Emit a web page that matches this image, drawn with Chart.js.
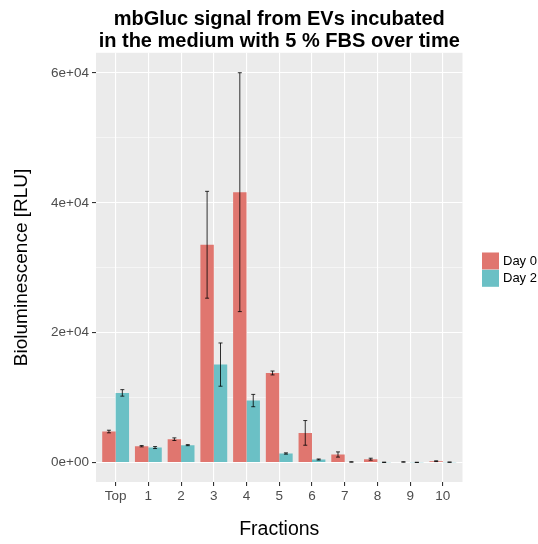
<!DOCTYPE html>
<html>
<head>
<meta charset="utf-8">
<script src="https://cdn.jsdelivr.net/npm/chart.js@4"></script>
<style>
  html, body { margin: 0; padding: 0; background: #fff; }
  #wrap { width: 538px; height: 544px; }
</style>
</head>
<body>
<div id="wrap"><canvas id="chart" width="538" height="544"></canvas></div>
<script>
const fractions = ['Top', '1', '2', '3', '4', '5', '6', '7', '8', '9', '10'];
const day0 = [4770, 2510, 3590, 33540, 41640, 13790, 4560, 1230, 510, 80, 200];
const day2 = [10720, 2300, 2670, 15080, 9540, 1385, 460, 80, 30, 20, 50];
const err0 = [200, 100, 200, 8230, 18400, 300, 1900, 400, 150, 30, 60];
const err2 = [500, 150, 80, 3330, 950, 100, 80, 30, 20, 10, 20];
const yTicks = [0, 10000, 20000, 30000, 40000, 50000, 60000];
const yLabels = {0: '0e+00', 20000: '2e+04', 40000: '4e+04', 60000: '6e+04'};

const FONT = "'Liberation Sans', Arial, Helvetica, sans-serif";
const RED = '#E0766F';
const TEAL = '#6BC0C5';

const panelBg = {
  id: 'panelBg',
  beforeDraw(chart) {
    const a = chart.chartArea, c = chart.ctx;
    c.save();
    c.fillStyle = '#EBEBEB';
    c.fillRect(a.left, a.top, a.right - a.left, a.bottom - a.top);
    c.restore();
  }
};

const errorBars = {
  id: 'errorBars',
  afterDatasetsDraw(chart) {
    const c = chart.ctx, y = chart.scales.y;
    const errs = [err0, err2];
    c.save();
    c.strokeStyle = 'rgba(0,0,0,0.8)';
    c.lineWidth = 1;
    chart.data.datasets.forEach((ds, i) => {
      chart.getDatasetMeta(i).data.forEach((bar, j) => {
        const v = ds.data[j].y, e = errs[i][j];
        const y1 = y.getPixelForValue(v + e), y2 = y.getPixelForValue(v - e);
        c.beginPath();
        c.moveTo(bar.x, y1); c.lineTo(bar.x, y2);
        c.moveTo(bar.x - 2, y1); c.lineTo(bar.x + 2, y1);
        c.moveTo(bar.x - 2, y2); c.lineTo(bar.x + 2, y2);
        c.stroke();
      });
    });
    c.restore();
  }
};

// ggplot style legend on the right
const sideLegend = {
  id: 'sideLegend',
  afterDraw(chart) {
    const c = chart.ctx;
    c.save();
    chart.data.datasets.forEach((ds, i) => {
      const top = 252.5 + i * 17.3;
      c.fillStyle = ds.backgroundColor;
      c.fillRect(482, top, 17, 17);
      c.fillStyle = '#000';
      c.font = '13px ' + FONT;
      c.textBaseline = 'middle';
      c.fillText(ds.label, 503, top + 9);
    });
    c.restore();
  }
};

new Chart(document.getElementById('chart'), {
  type: 'bar',
  data: {
    datasets: [
      { label: 'Day 0', data: day0.map((v, i) => ({x: i, y: v})), backgroundColor: RED },
      { label: 'Day 2', data: day2.map((v, i) => ({x: i, y: v})), backgroundColor: TEAL }
    ]
  },
  options: {
    responsive: false,
    animation: false,
    categoryPercentage: 0.82,
    barPercentage: 1,
    layout: { padding: { top: 0, right: 75.5, bottom: 0, left: 0 } },
    plugins: {
      legend: { display: false },
      tooltip: { enabled: false },
      title: {
        display: true,
        fullSize: false,
        text: ['mbGluc signal from EVs incubated', 'in the medium with 5 % FBS over time'],
        color: '#000',
        font: { family: FONT, size: 20, weight: 'bold', lineHeight: 1.12 },
        padding: { top: 8, bottom: 0 }
      }
    },
    scales: {
      x: {
        type: 'linear',
        offset: false,
        min: -0.6,
        max: 10.6,
        afterBuildTicks: s => { s.ticks = fractions.map((_, i) => ({value: i})); },
        afterFit: s => { s.height = 62; },
        ticks: {
          callback: v => fractions[v],
          color: '#4D4D4D',
          font: { family: FONT, size: 13.5 },
          padding: 2,
          maxRotation: 0,
          autoSkip: false
        },
        grid: { offset: false, color: '#FFFFFF', lineWidth: 1.1, tickColor: '#333333', tickLength: 4 },
        border: { display: false },
        title: {
          display: true,
          text: 'Fractions',
          color: '#000',
          font: { family: FONT, size: 19.5 },
          padding: { top: 0, bottom: 3 }
        }
      },
      y: {
        min: -3005,
        max: 63110,
        afterBuildTicks: s => { s.ticks = yTicks.map(v => ({value: v})); },
        afterFit: s => { s.width = 96; },
        ticks: {
          callback: v => yLabels[v] || '',
          color: '#4D4D4D',
          font: { family: FONT, size: 13.5 },
          padding: 3
        },
        grid: {
          color: '#FFFFFF',
          lineWidth: ctx => (ctx.tick && ctx.tick.value % 20000 === 0 ? 1.1 : 0.5),
          tickColor: ctx => (ctx.tick && ctx.tick.value % 20000 === 0 ? '#333333' : 'rgba(0,0,0,0)'),
          tickLength: 4
        },
        border: { display: false },
        title: {
          display: true,
          text: 'Bioluminescence [RLU]',
          color: '#000',
          font: { family: FONT, size: 19 },
          padding: { top: 10, bottom: 0 }
        }
      }
    }
  },
  plugins: [panelBg, errorBars, sideLegend]
});
</script>
</body>
</html>
